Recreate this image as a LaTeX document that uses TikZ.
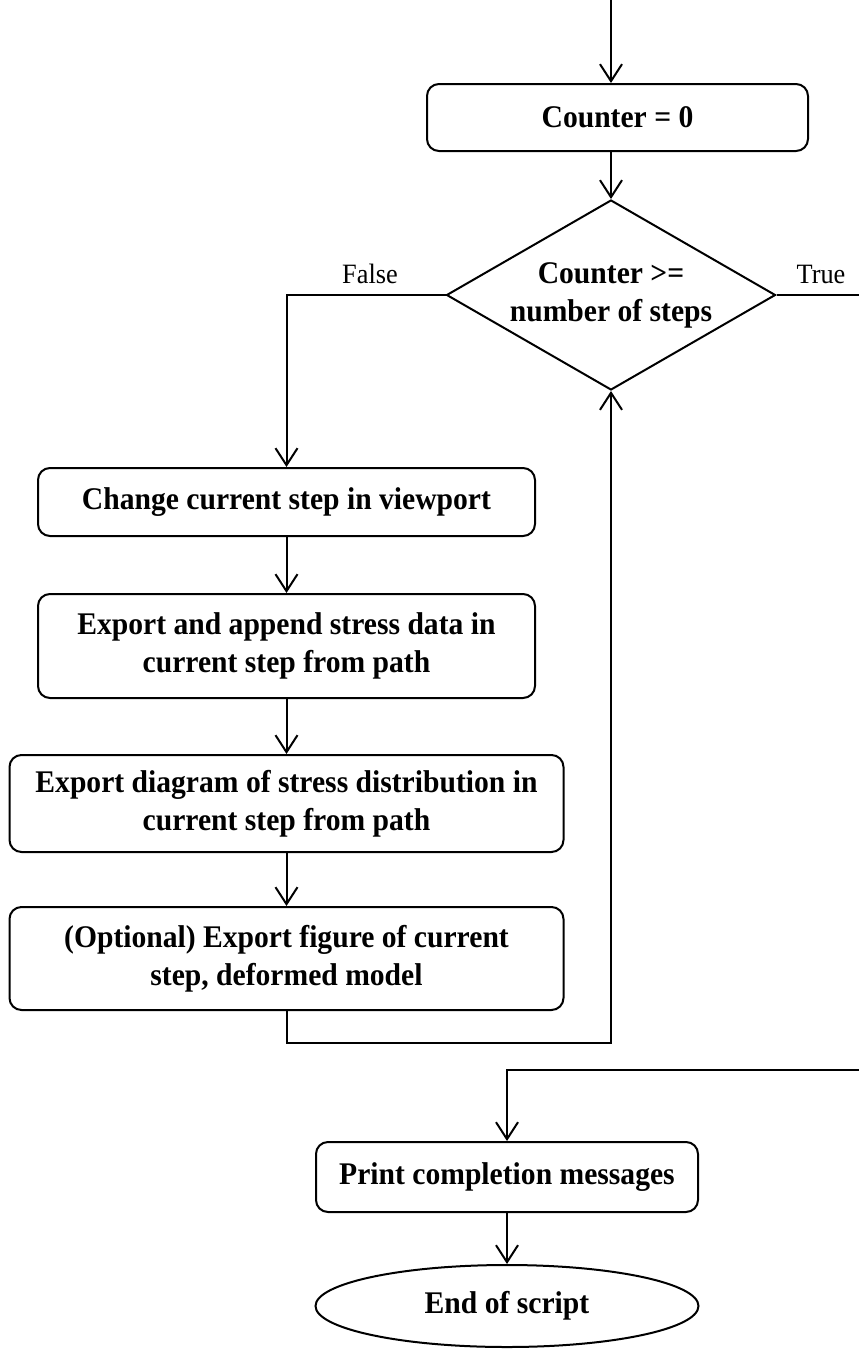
\documentclass[tikz,border=0pt]{standalone}
\usepackage{fontspec}
\setmainfont{Liberation Serif}[FakeStretch=0.94]
\usetikzlibrary{arrows.meta,shapes.geometric}
\begin{document}
\begin{tikzpicture}[x=1pt,y=-1pt,line width=2pt,
  flow/.style={-{Straight Barb[length=17pt,width=22pt,line width=2pt]}},
  boxtext/.style={font=\fontsize{31.5}{38}\selectfont\bfseries},
  proc/.style={draw,rounded corners=12pt,align=center,inner sep=0pt,boxtext},
  decision/.style={draw,diamond,aspect=1.73,inner sep=0pt,align=center,
    minimum width=329pt,minimum height=190pt,boxtext},
  terminal/.style={draw,ellipse,inner sep=0pt,boxtext},
  lbl/.style={font=\fontsize{28}{34}\selectfont,inner sep=0pt}]
\useasboundingbox (0,0) rectangle (859,1349);
\clip (0,0) rectangle (859,1349);

% process steps
\node[proc,minimum width=381pt,minimum height=67pt] (init) at (617.5,117.5) {Counter = 0};
\node[decision] (cond) at (611,295) {Counter >=\\number of steps};
\node[proc,minimum width=497pt,minimum height=68pt] (chg) at (286.5,502) {Change current step in viewport};
\node[proc,minimum width=497pt,minimum height=104pt] (app) at (286.5,646) {Export and append stress data in\\current step from path};
\node[proc,minimum width=554pt,minimum height=97pt] (diag) at (286.5,803.5) {Export diagram of stress distribution in\\current step from path};
\node[proc,minimum width=554pt,minimum height=103pt] (opt) at (286.5,958.5) {(Optional) Export figure of current\\step, deformed model};
\node[proc,minimum width=382pt,minimum height=70pt] (prt) at (507,1177) {Print completion messages};
\node[terminal,minimum width=383pt,minimum height=82pt] (end) at (507,1306) {End of script};

% branch labels
\node[lbl] (lfalse) at (370,274) {False};
\node[lbl] (ltrue) at (821,274) {True};

% helper points for the routed connectors
\coordinate (entry) at (611,0);
\coordinate (loop) at (611,1043);
\coordinate (exitr) at (880,1070);

% connectors
\draw[flow] (entry) -- (entry |- init.north);
\draw[flow] (init.south -| cond.north) -- (cond.north);
\draw[flow] (cond.west) -| (chg.north);
\draw[flow] (chg.south) -- (app.north);
\draw[flow] (app.south) -- (diag.north);
\draw[flow] (diag.south) -- (opt.north);
\draw[flow] (opt.south) |- (loop) -- (cond.south);
\draw[flow] (cond.east) -| (exitr) -| (prt.north);
\draw[flow] (prt.south) -- (end.north);
\end{tikzpicture}
\end{document}
